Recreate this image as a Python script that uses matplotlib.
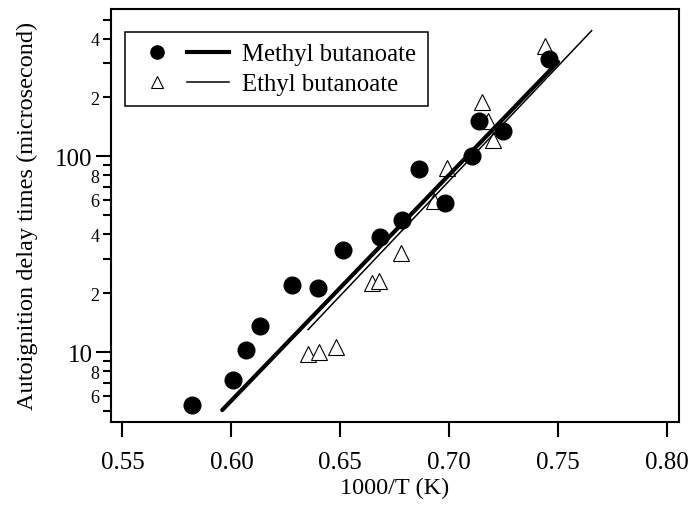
import matplotlib
matplotlib.use('Agg')
import matplotlib.pyplot as plt
from matplotlib.ticker import FixedLocator, FuncFormatter
from matplotlib.legend_handler import HandlerTuple
from matplotlib.lines import Line2D

plt.rcParams['font.family'] = ['Liberation Serif', 'DejaVu Serif']

# methyl butanoate, filled circles
methyl_x = [0.582, 0.6006, 0.6067, 0.613, 0.628, 0.6398, 0.6512, 0.6683,
            0.6783, 0.686, 0.698, 0.7104, 0.7138, 0.7249, 0.7456]
methyl_tau = [5.4, 7.25, 10.3, 13.6, 22.1, 21.2, 33.3, 38.7,
              47.4, 86.3, 57.9, 100.2, 152, 134.5, 315]

# ethyl butanoate, open triangles
ethyl_x = [0.635, 0.640, 0.6478, 0.6645, 0.6676, 0.6778, 0.6928, 0.6989,
           0.715, 0.718, 0.7203, 0.744]
ethyl_tau = [9.8, 10.0, 10.7, 22.6, 23.2, 32.0, 59.5, 87,
             190.5, 152, 121.4, 365.5]

# fitted lines (end points)
methyl_fit_x = [0.5958, 0.750]
methyl_fit_tau = [5.07, 304]
ethyl_fit_x = [0.6352, 0.7654]
ethyl_fit_tau = [13.05, 439]

x_ticks = [0.55, 0.60, 0.65, 0.70, 0.75, 0.80]

fig = plt.figure(figsize=(6.92, 5.06), dpi=100)
ax = fig.add_axes([0.1597, 0.1646, 0.8215, 0.8156])

ax.plot(ethyl_x, ethyl_tau, linestyle='none', marker='^', markersize=11,
        markerfacecolor='white', markeredgecolor='black', markeredgewidth=0.8, zorder=2)
ax.plot(methyl_fit_x, methyl_fit_tau, color='black', lw=3.0, solid_capstyle='round', zorder=3)
ax.plot(ethyl_fit_x, ethyl_fit_tau, color='black', lw=1.1, zorder=3)
ax.plot(methyl_x, methyl_tau, linestyle='none', marker='o', markersize=12,
        color='black', zorder=4)

ax.set_yscale('log')
ax.set_xlim(0.5445, 0.8055)
ax.set_ylim(4.42, 566)

ax.xaxis.set_major_locator(FixedLocator(x_ticks))
ax.xaxis.set_major_formatter(FuncFormatter(lambda v, p: '%.2f' % v))

ax.yaxis.set_major_locator(FixedLocator([10, 100]))
ax.yaxis.set_major_formatter(FuncFormatter(lambda v, p: '%d' % round(v)))
minors = [m * 10 ** d for d in (0, 1, 2) for m in range(2, 10)]
ax.yaxis.set_minor_locator(FixedLocator(minors))


def minor_label(v, p):
    lead = int(round(v / 10 ** int(len(str(int(round(v)))) - 1)))
    return str(lead) if lead in (2, 4, 6, 8) else ''


ax.yaxis.set_minor_formatter(FuncFormatter(minor_label))

for s in ax.spines.values():
    s.set_linewidth(1.5)

ax.tick_params(axis='x', which='major', direction='out', length=11, width=1.5,
               labelsize=18, pad=10, top=False)
ax.tick_params(axis='y', which='major', direction='out', length=11, width=1.5,
               labelsize=18, pad=2, right=False)
ax.tick_params(axis='y', which='minor', direction='out', length=5.8, width=1.5,
               labelsize=13, pad=2, right=False)

ax.set_xlabel('1000/T (K)', fontsize=17.5, labelpad=3)
ax.set_ylabel('Autoignition delay times (microsecond)', fontsize=17.5, labelpad=12)

# legend: marker and line side by side
h1 = (Line2D([], [], linestyle='none', marker='o', markersize=9.5, color='black'),
      Line2D([], [], color='black', lw=3.0))
h2 = (Line2D([], [], linestyle='none', marker='^', markersize=8.5, markerfacecolor='white',
             markeredgecolor='black', markeredgewidth=0.8),
      Line2D([], [], color='black', lw=1.1))
leg = ax.legend([h1, h2], ['Methyl butanoate', 'Ethyl butanoate'],
                handler_map={tuple: HandlerTuple(ndivide=None, pad=0.35)},
                loc='upper left', bbox_to_anchor=(125 / 692, 1 - 33 / 506),
                bbox_transform=fig.transFigure, borderaxespad=0,
                fontsize=17.8, handlelength=3.75, handletextpad=0.55,
                borderpad=0.45, labelspacing=0.3, fancybox=False, framealpha=1)
leg.get_frame().set_edgecolor('black')
leg.get_frame().set_linewidth(1.1)

fig.savefig('out.png', dpi=100)
